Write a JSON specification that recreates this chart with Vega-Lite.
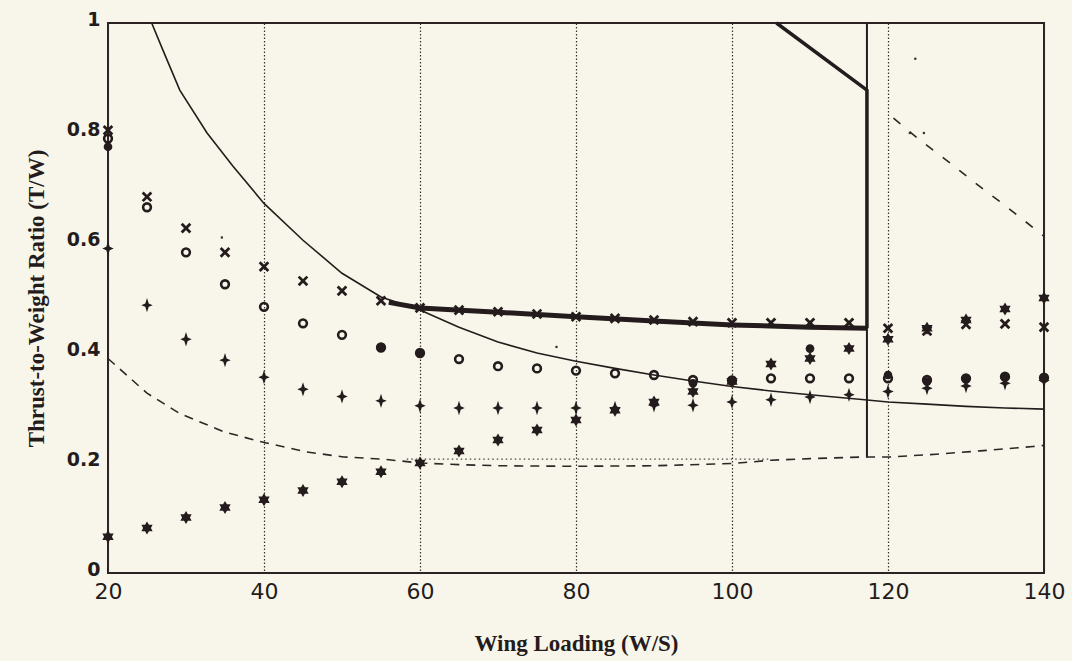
{
  "$schema": "https://vega.github.io/schema/vega-lite/v6.json",
  "width": 936,
  "height": 550,
  "autosize": {"type": "none"},
  "padding": {"left": 108, "top": 23, "right": 28, "bottom": 88},
  "background": "#f8f6ea",
  "config": {
    "view": {"stroke": "#2a2222", "strokeWidth": 2},
    "axis": {"labelColor": "#241c1c", "titleColor": "#241c1c"}
  },
  "datasets": {
    "lines": [
      {"s": "curve", "i": 1, "x": 25.6, "y": 1.0},
      {"s": "curve", "i": 2, "x": 27, "y": 0.952},
      {"s": "curve", "i": 3, "x": 29.2, "y": 0.878},
      {"s": "curve", "i": 4, "x": 32.7, "y": 0.80},
      {"s": "curve", "i": 5, "x": 36, "y": 0.74},
      {"s": "curve", "i": 6, "x": 40, "y": 0.672},
      {"s": "curve", "i": 7, "x": 45, "y": 0.605},
      {"s": "curve", "i": 8, "x": 50, "y": 0.545},
      {"s": "curve", "i": 9, "x": 55, "y": 0.502},
      {"s": "curve", "i": 10, "x": 60, "y": 0.478},
      {"s": "curve", "i": 11, "x": 65, "y": 0.447},
      {"s": "curve", "i": 12, "x": 70, "y": 0.42},
      {"s": "curve", "i": 13, "x": 75, "y": 0.40},
      {"s": "curve", "i": 14, "x": 80, "y": 0.385},
      {"s": "curve", "i": 15, "x": 85, "y": 0.372},
      {"s": "curve", "i": 16, "x": 90, "y": 0.36},
      {"s": "curve", "i": 17, "x": 95, "y": 0.349},
      {"s": "curve", "i": 18, "x": 100, "y": 0.339},
      {"s": "curve", "i": 19, "x": 105, "y": 0.331},
      {"s": "curve", "i": 20, "x": 110, "y": 0.324},
      {"s": "curve", "i": 21, "x": 117, "y": 0.315},
      {"s": "curve", "i": 22, "x": 120, "y": 0.311},
      {"s": "curve", "i": 23, "x": 125, "y": 0.307},
      {"s": "curve", "i": 24, "x": 130, "y": 0.303},
      {"s": "curve", "i": 25, "x": 135, "y": 0.30},
      {"s": "curve", "i": 26, "x": 140, "y": 0.298},
      {"s": "bound", "i": 1, "x": 56, "y": 0.492},
      {"s": "bound", "i": 2, "x": 60, "y": 0.482},
      {"s": "bound", "i": 3, "x": 70, "y": 0.474},
      {"s": "bound", "i": 4, "x": 80, "y": 0.466},
      {"s": "bound", "i": 5, "x": 90, "y": 0.458},
      {"s": "bound", "i": 6, "x": 100, "y": 0.451},
      {"s": "bound", "i": 7, "x": 110, "y": 0.447},
      {"s": "bound", "i": 8, "x": 117.3, "y": 0.445},
      {"s": "cap", "i": 1, "x": 117.3, "y": 0.445},
      {"s": "cap", "i": 2, "x": 117.3, "y": 0.878},
      {"s": "cap", "i": 3, "x": 105.7, "y": 1.0},
      {"s": "vline", "i": 1, "x": 117.3, "y": 0.21},
      {"s": "vline", "i": 2, "x": 117.3, "y": 1.0},
      {"s": "lowdash", "i": 1, "x": 20, "y": 0.39},
      {"s": "lowdash", "i": 2, "x": 25, "y": 0.327},
      {"s": "lowdash", "i": 3, "x": 29.2, "y": 0.29},
      {"s": "lowdash", "i": 4, "x": 34.8, "y": 0.257},
      {"s": "lowdash", "i": 5, "x": 39.5, "y": 0.239},
      {"s": "lowdash", "i": 6, "x": 45.5, "y": 0.22},
      {"s": "lowdash", "i": 7, "x": 50.2, "y": 0.211},
      {"s": "lowdash", "i": 8, "x": 55.3, "y": 0.207},
      {"s": "lowdash", "i": 9, "x": 60, "y": 0.20},
      {"s": "lowdash", "i": 10, "x": 65, "y": 0.197},
      {"s": "lowdash", "i": 11, "x": 70, "y": 0.195},
      {"s": "lowdash", "i": 12, "x": 80, "y": 0.194},
      {"s": "lowdash", "i": 13, "x": 90, "y": 0.195},
      {"s": "lowdash", "i": 14, "x": 100, "y": 0.199},
      {"s": "lowdash", "i": 15, "x": 105, "y": 0.205},
      {"s": "lowdash", "i": 16, "x": 110, "y": 0.208},
      {"s": "lowdash", "i": 17, "x": 117, "y": 0.211},
      {"s": "lowdash", "i": 18, "x": 120.3, "y": 0.211},
      {"s": "lowdash", "i": 19, "x": 126.2, "y": 0.216},
      {"s": "lowdash", "i": 20, "x": 131.8, "y": 0.222},
      {"s": "lowdash", "i": 21, "x": 138.6, "y": 0.23},
      {"s": "lowdash", "i": 22, "x": 140, "y": 0.232},
      {"s": "updash", "i": 1, "x": 120.7, "y": 0.827},
      {"s": "updash", "i": 2, "x": 124.1, "y": 0.787},
      {"s": "updash", "i": 3, "x": 128, "y": 0.745},
      {"s": "updash", "i": 4, "x": 131.2, "y": 0.709},
      {"s": "updash", "i": 5, "x": 135.2, "y": 0.666},
      {"s": "updash", "i": 6, "x": 139.5, "y": 0.618},
      {"s": "updash", "i": 7, "x": 140, "y": 0.612},
      {"s": "dotted", "i": 1, "x": 58.3, "y": 0.207},
      {"s": "dotted", "i": 2, "x": 105, "y": 0.207}
    ],
    "pts": [
      {"s": "x", "x": 20, "y": 0.805}, {"s": "x", "x": 25, "y": 0.684}, {"s": "x", "x": 30, "y": 0.627},
      {"s": "x", "x": 35, "y": 0.583}, {"s": "x", "x": 40, "y": 0.557}, {"s": "x", "x": 45, "y": 0.531},
      {"s": "x", "x": 50, "y": 0.513}, {"s": "x", "x": 55, "y": 0.495}, {"s": "x", "x": 60, "y": 0.482},
      {"s": "x", "x": 65, "y": 0.478}, {"s": "x", "x": 70, "y": 0.475}, {"s": "x", "x": 75, "y": 0.471},
      {"s": "x", "x": 80, "y": 0.466}, {"s": "x", "x": 85, "y": 0.463}, {"s": "x", "x": 90, "y": 0.46},
      {"s": "x", "x": 95, "y": 0.457}, {"s": "x", "x": 100, "y": 0.455}, {"s": "x", "x": 105, "y": 0.455},
      {"s": "x", "x": 110, "y": 0.455}, {"s": "x", "x": 115, "y": 0.455}, {"s": "x", "x": 120, "y": 0.445},
      {"s": "x", "x": 125, "y": 0.44}, {"s": "x", "x": 130, "y": 0.452}, {"s": "x", "x": 135, "y": 0.453},
      {"s": "x", "x": 140, "y": 0.447},
      {"s": "o", "x": 20, "y": 0.79}, {"s": "o", "x": 25, "y": 0.665}, {"s": "o", "x": 30, "y": 0.583},
      {"s": "o", "x": 35, "y": 0.525}, {"s": "o", "x": 40, "y": 0.484}, {"s": "o", "x": 45, "y": 0.454},
      {"s": "o", "x": 50, "y": 0.433}, {"s": "o", "x": 55, "y": 0.41}, {"s": "o", "x": 60, "y": 0.40},
      {"s": "o", "x": 65, "y": 0.389}, {"s": "o", "x": 70, "y": 0.376}, {"s": "o", "x": 75, "y": 0.372},
      {"s": "o", "x": 80, "y": 0.368}, {"s": "o", "x": 85, "y": 0.363}, {"s": "o", "x": 90, "y": 0.36},
      {"s": "o", "x": 95, "y": 0.351}, {"s": "o", "x": 100, "y": 0.35}, {"s": "o", "x": 105, "y": 0.354},
      {"s": "o", "x": 110, "y": 0.354}, {"s": "o", "x": 115, "y": 0.354}, {"s": "o", "x": 120, "y": 0.354},
      {"s": "o", "x": 125, "y": 0.351}, {"s": "o", "x": 130, "y": 0.354}, {"s": "o", "x": 135, "y": 0.357},
      {"s": "o", "x": 140, "y": 0.355},
      {"s": "plus", "x": 20, "y": 0.59}, {"s": "plus", "x": 25, "y": 0.487}, {"s": "plus", "x": 30, "y": 0.425},
      {"s": "plus", "x": 35, "y": 0.387}, {"s": "plus", "x": 40, "y": 0.356}, {"s": "plus", "x": 45, "y": 0.334},
      {"s": "plus", "x": 50, "y": 0.321}, {"s": "plus", "x": 55, "y": 0.313}, {"s": "plus", "x": 60, "y": 0.304},
      {"s": "plus", "x": 65, "y": 0.30}, {"s": "plus", "x": 70, "y": 0.30}, {"s": "plus", "x": 75, "y": 0.30},
      {"s": "plus", "x": 80, "y": 0.30}, {"s": "plus", "x": 85, "y": 0.30}, {"s": "plus", "x": 90, "y": 0.305},
      {"s": "plus", "x": 95, "y": 0.305}, {"s": "plus", "x": 100, "y": 0.311}, {"s": "plus", "x": 105, "y": 0.315},
      {"s": "plus", "x": 110, "y": 0.32}, {"s": "plus", "x": 115, "y": 0.324}, {"s": "plus", "x": 120, "y": 0.33},
      {"s": "plus", "x": 125, "y": 0.336}, {"s": "plus", "x": 130, "y": 0.34}, {"s": "plus", "x": 135, "y": 0.345},
      {"s": "plus", "x": 140, "y": 0.35},
      {"s": "star", "x": 20, "y": 0.066}, {"s": "star", "x": 25, "y": 0.082}, {"s": "star", "x": 30, "y": 0.101},
      {"s": "star", "x": 35, "y": 0.119}, {"s": "star", "x": 40, "y": 0.133}, {"s": "star", "x": 45, "y": 0.15},
      {"s": "star", "x": 50, "y": 0.166}, {"s": "star", "x": 55, "y": 0.184}, {"s": "star", "x": 60, "y": 0.20},
      {"s": "star", "x": 65, "y": 0.222}, {"s": "star", "x": 70, "y": 0.242}, {"s": "star", "x": 75, "y": 0.26},
      {"s": "star", "x": 80, "y": 0.278}, {"s": "star", "x": 85, "y": 0.296}, {"s": "star", "x": 90, "y": 0.311},
      {"s": "star", "x": 95, "y": 0.33}, {"s": "star", "x": 100, "y": 0.348}, {"s": "star", "x": 105, "y": 0.38},
      {"s": "star", "x": 110, "y": 0.39}, {"s": "star", "x": 115, "y": 0.408}, {"s": "star", "x": 120, "y": 0.425},
      {"s": "star", "x": 125, "y": 0.445}, {"s": "star", "x": 130, "y": 0.46}, {"s": "star", "x": 135, "y": 0.48},
      {"s": "star", "x": 140, "y": 0.50},
      {"s": "dot", "x": 20, "y": 0.775}, {"s": "dot", "x": 55, "y": 0.41}, {"s": "dot", "x": 60, "y": 0.40},
      {"s": "dot", "x": 95, "y": 0.345}, {"s": "dot", "x": 110, "y": 0.408}, {"s": "dot", "x": 120, "y": 0.36},
      {"s": "dot", "x": 125, "y": 0.348}, {"s": "dot", "x": 130, "y": 0.352}, {"s": "dot", "x": 135, "y": 0.355},
      {"s": "dot", "x": 140, "y": 0.355},
      {"s": "speck", "x": 123.5, "y": 0.935}, {"s": "speck", "x": 34.6, "y": 0.61}, {"s": "speck", "x": 122.8, "y": 0.80},
      {"s": "speck", "x": 124.6, "y": 0.80}, {"s": "speck", "x": 77.5, "y": 0.411}
    ]
  },
  "encoding": {
    "x": {
      "field": "x", "type": "quantitative",
      "scale": {"domain": [20, 140], "nice": false, "zero": false},
      "axis": {
        "values": [20, 40, 60, 80, 100, 120, 140],
        "grid": true, "gridDash": [1.5, 2], "gridColor": "#3a3030", "gridWidth": 1.2,
        "ticks": false, "domain": false, "labelFlush": false,
        "labelFont": "DejaVu Sans", "labelFontSize": 22, "labelPadding": 8,
        "title": "Wing Loading (W/S)", "titleFont": "Liberation Serif", "titleFontSize": 23,
        "titleFontWeight": "bold", "titlePadding": 30
      }
    },
    "y": {
      "field": "y", "type": "quantitative",
      "scale": {"domain": [0, 1], "nice": false, "zero": false},
      "axis": {
        "values": [0, 0.2, 0.4, 0.6, 0.8, 1],
        "labelExpr": "datum.value == 0 ? '0' : datum.value == 1 ? '1' : format(datum.value, '.1f')",
        "grid": false, "ticks": false, "domain": false,
        "labelFont": "DejaVu Sans", "labelFontSize": 19, "labelFontWeight": "bold", "labelPadding": 8,
        "labelOffset": -4,
        "title": "Thrust-to-Weight Ratio (T/W)", "titleFont": "Liberation Serif", "titleFontSize": 23,
        "titleFontWeight": "bold", "titlePadding": 18
      }
    }
  },
  "layer": [
    {
      "data": {"name": "lines"},
      "transform": [{"filter": "datum.s == 'curve'"}],
      "mark": {"type": "line", "color": "#241c1c", "strokeWidth": 1.6},
      "encoding": {"order": {"field": "i"}}
    },
    {
      "data": {"name": "lines"},
      "transform": [{"filter": "datum.s == 'vline'"}],
      "mark": {"type": "line", "color": "#241c1c", "strokeWidth": 2},
      "encoding": {"order": {"field": "i"}}
    },
    {
      "data": {"name": "lines"},
      "transform": [{"filter": "datum.s == 'bound'"}],
      "mark": {"type": "line", "color": "#241c1c", "strokeWidth": 5},
      "encoding": {"order": {"field": "i"}}
    },
    {
      "data": {"name": "lines"},
      "transform": [{"filter": "datum.s == 'cap'"}],
      "mark": {"type": "line", "color": "#241c1c", "strokeWidth": 3.5, "strokeJoin": "round"},
      "encoding": {"order": {"field": "i"}}
    },
    {
      "data": {"name": "lines"},
      "transform": [{"filter": "datum.s == 'lowdash'"}],
      "mark": {"type": "line", "color": "#2e2626", "strokeWidth": 1.6, "strokeDash": [9, 7]},
      "encoding": {"order": {"field": "i"}}
    },
    {
      "data": {"name": "lines"},
      "transform": [{"filter": "datum.s == 'updash'"}],
      "mark": {"type": "line", "color": "#2e2626", "strokeWidth": 1.6, "strokeDash": [9, 12]},
      "encoding": {"order": {"field": "i"}}
    },
    {
      "data": {"name": "lines"},
      "transform": [{"filter": "datum.s == 'dotted'"}],
      "mark": {"type": "line", "color": "#4a4040", "strokeWidth": 1.2, "strokeDash": [1.5, 3]},
      "encoding": {"order": {"field": "i"}}
    },
    {
      "data": {"name": "pts"},
      "transform": [{"filter": "datum.s == 'x'"}],
      "mark": {"type": "point", "shape": "M-1,-1L1,1M-1,1L1,-1", "filled": false, "stroke": "#241c1c", "strokeWidth": 2.8, "size": 75, "opacity": 1}
    },
    {
      "data": {"name": "pts"},
      "transform": [{"filter": "datum.s == 'o'"}],
      "mark": {"type": "point", "shape": "circle", "filled": false, "stroke": "#241c1c", "strokeWidth": 2.6, "size": 60, "opacity": 1}
    },
    {
      "data": {"name": "pts"},
      "transform": [{"filter": "datum.s == 'plus'"}],
      "mark": {"type": "point", "shape": "M0,-1.25L0.3,-0.3L1,0L0.3,0.3L0,1.25L-0.3,0.3L-1,0L-0.3,-0.3Z", "filled": true, "color": "#241c1c", "size": 130, "opacity": 1}
    },
    {
      "data": {"name": "pts"},
      "transform": [{"filter": "datum.s == 'star'"}],
      "mark": {"type": "point", "shape": "M0,-1L0.3,-0.5L0.866,-0.5L0.6,0L0.866,0.5L0.3,0.5L0,1L-0.3,0.5L-0.866,0.5L-0.6,0L-0.866,-0.5L-0.3,-0.5Z", "filled": true, "color": "#241c1c", "size": 170, "opacity": 1}
    },
    {
      "data": {"name": "pts"},
      "transform": [{"filter": "datum.s == 'dot'"}],
      "mark": {"type": "point", "shape": "circle", "filled": true, "color": "#241c1c", "size": 75, "opacity": 1}
    },
    {
      "data": {"name": "pts"},
      "transform": [{"filter": "datum.s == 'speck'"}],
      "mark": {"type": "point", "shape": "square", "filled": true, "color": "#3a3030", "size": 5, "opacity": 1}
    }
  ]
}
